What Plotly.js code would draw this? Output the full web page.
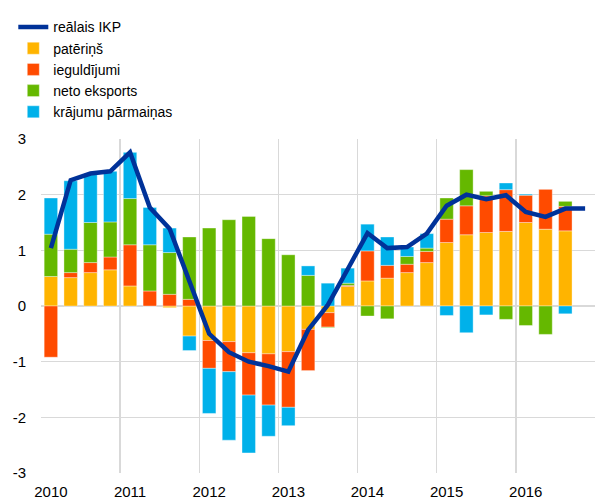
<!DOCTYPE html>
<html>
<head>
<meta charset="utf-8">
<script src="https://cdn.plot.ly/plotly-3.0.1.min.js"></script>
<style>html,body{margin:0;padding:0;background:#fff;}#chart{width:595px;height:499px;}</style>
</head>
<body>
<div id="chart"></div>
<script>
const quarters = ['2010Q1','2010Q2','2010Q3','2010Q4','2011Q1','2011Q2','2011Q3','2011Q4',
  '2012Q1','2012Q2','2012Q3','2012Q4','2013Q1','2013Q2','2013Q3','2013Q4',
  '2014Q1','2014Q2','2014Q3','2014Q4','2015Q1','2015Q2','2015Q3','2015Q4',
  '2016Q1','2016Q2','2016Q3','2016Q4'];
const yearLabels = ['2010','2011','2012','2013','2014','2015','2016'];
const yTickVals = [-3,-2,-1,0,1,2,3];
const yTickText = ['-3','-2','-1','0','1','2','3'];

const gdp = [1.04,2.26,2.38,2.42, 2.76,1.77,1.39,0.45,
  -0.50,-0.83,-1.00,-1.08, -1.18,-0.43,0.02,0.66,
  1.31,1.04,1.06,1.30, 1.80,2.00,1.92,1.99,
  1.69,1.60,1.75,1.75];
const consumption = [0.53,0.51,0.60,0.65, 0.36,0.00,-0.03,-0.54,
  -0.62,-0.64,-0.84,-0.86, -0.82,-0.42,-0.12,0.35,
  0.45,0.50,0.60,0.78, 1.14,1.28,1.32,1.34,
  1.50,1.38,1.35];
const investment = [-0.92,0.09,0.18,0.23, 0.74,0.27,0.21,0.12,
  -0.50,-0.54,-0.76,-0.92, -1.00,-0.74,-0.26,0.02,
  0.54,0.23,0.15,0.20, 0.42,0.52,0.66,0.75,
  0.49,0.72,0.44];
const netExports = [0.76,0.42,0.72,0.63, 0.83,0.83,0.75,1.12,
  1.40,1.55,1.61,1.21, 0.92,0.55,-0.01,0.04,
  -0.18,-0.23,0.14,0.06, 0.38,0.65,0.08,-0.24,
  -0.35,-0.51,0.09];
const inventories = [0.65,1.23,0.86,0.91, 0.83,0.67,0.44,-0.26,
  -0.81,-1.23,-1.04,-0.56, -0.33,0.17,0.41,0.27,
  0.48,0.51,0.17,0.26, -0.17,-0.48,-0.16,0.12,
  0.02,0.00,-0.14];

const names = ['reālais IKP','patēriņš','ieguldījumi','neto eksports','krājumu pārmaiņas'];
const colors = ['#003299','#FFB400','#FF4B00','#65B800','#00B1EA'];

const xIdx = quarters.map((q,i)=>i);
const yearPos = yearLabels.map(y => quarters.indexOf(y+'Q1'));

const barSeries = [consumption, investment, netExports, inventories];
const traces = barSeries.map((vals,k)=>({
  type:'bar', x: xIdx.slice(0, vals.length), y: vals, name: names[k+1],
  marker:{color: colors[k+1], line:{width:0.6, color:'rgba(255,255,255,0.6)'}}, width:0.68,
  legendrank: k+2, hoverinfo:'skip'
}));
traces.push({
  type:'scatter', mode:'lines', x: xIdx, y: gdp, name: names[0],
  line:{color: colors[0], width:4.5}, legendrank:1, hoverinfo:'skip'
});

const layout = {
  width:595, height:499,
  margin:{l:41, r:0, t:139, b:26},
  paper_bgcolor:'#fff', plot_bgcolor:'#fff',
  barmode:'relative', bargap:0.32,
  font:{family:'Liberation Sans, Arial, sans-serif', size:15, color:'#000'},
  showlegend:true,
  legend:{x:-0.05, xanchor:'left', y:1.382, yanchor:'top', traceorder:'normal',
    font:{size:14, color:'#000'}, bgcolor:'rgba(0,0,0,0)', tracegroupgap:0},
  xaxis:{range:[-0.5, quarters.length-0.5], tickmode:'array', tickvals:yearPos, ticktext:yearLabels,
    showgrid:false, zeroline:false, showline:false, ticks:'', ticklabelstandoff:8,
    tickfont:{size:15},
    minor:{tick0:-0.5, dtick:4, showgrid:true, gridcolor:'#d9d9d9', gridwidth:1.5, ticks:''}},
  yaxis:{range:[-3,3], tickmode:'array', tickvals:yTickVals, ticktext:yTickText,
    showgrid:true, gridcolor:'#d9d9d9', gridwidth:1.5,
    zeroline:false, showline:false, ticks:'', ticklabelstandoff:14, tickfont:{size:15}}
};

Plotly.newPlot('chart', traces, layout, {displayModeBar:false, staticPlot:true});
</script>
</body>
</html>
